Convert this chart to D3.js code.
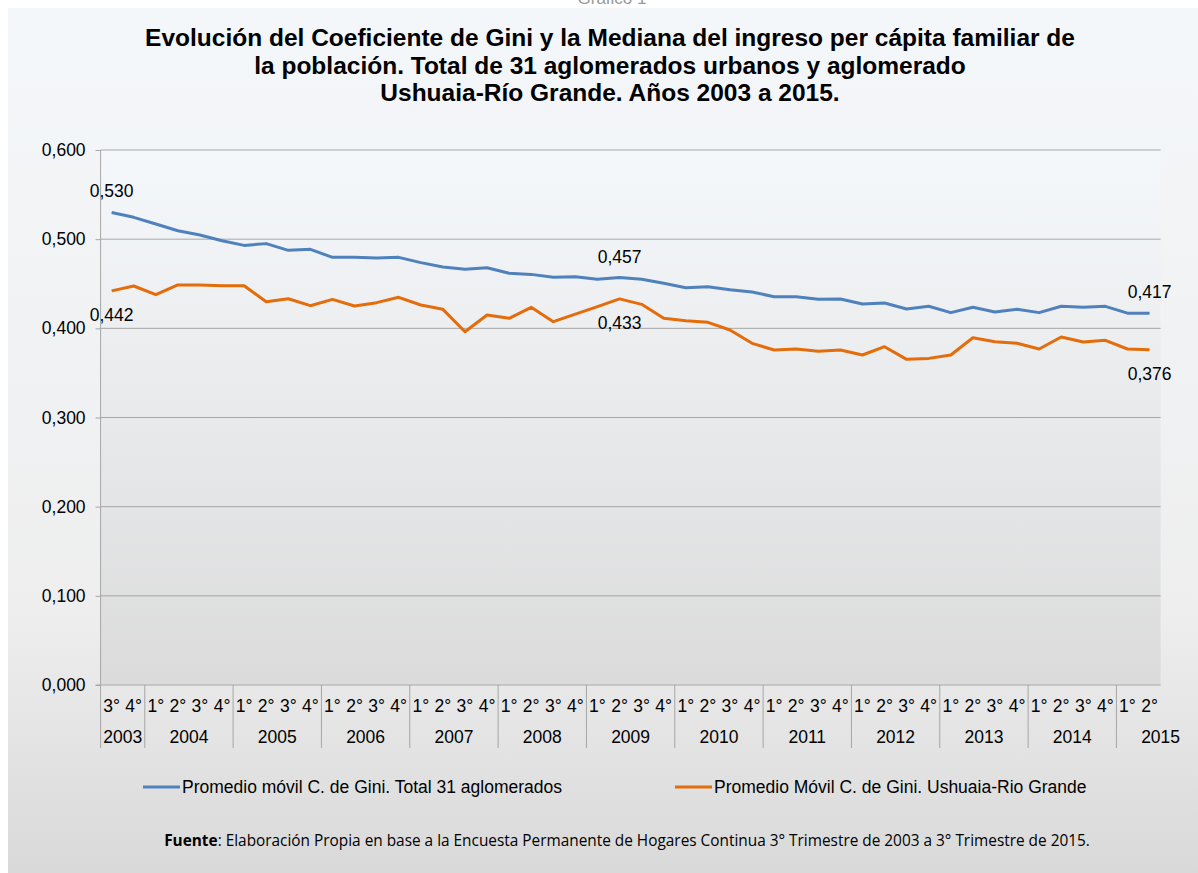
<!DOCTYPE html>
<html>
<head>
<meta charset="utf-8">
<script src="https://cdn.jsdelivr.net/npm/d3@7"></script>
<style>
  body { margin: 0; background: #fff; }
  svg text { font-family: "Liberation Sans", Arial, sans-serif; fill: #000; }
</style>
</head>
<body>
<svg id="chart" width="1198" height="873"></svg>
<script>
// periods, year + quarter
const periods = [
  '2003|3°','2003|4°',
  '2004|1°','2004|2°','2004|3°','2004|4°',
  '2005|1°','2005|2°','2005|3°','2005|4°',
  '2006|1°','2006|2°','2006|3°','2006|4°',
  '2007|1°','2007|2°','2007|3°','2007|4°',
  '2008|1°','2008|2°','2008|3°','2008|4°',
  '2009|1°','2009|2°','2009|3°','2009|4°',
  '2010|1°','2010|2°','2010|3°','2010|4°',
  '2011|1°','2011|2°','2011|3°','2011|4°',
  '2012|1°','2012|2°','2012|3°','2012|4°',
  '2013|1°','2013|2°','2013|3°','2013|4°',
  '2014|1°','2014|2°','2014|3°','2014|4°',
  '2015|1°','2015|2°'
];

const gini31 = [
  0.530, 0.5245, 0.517, 0.5095, 0.5047, 0.4983, 0.493, 0.495,
  0.4875, 0.4886, 0.4796, 0.4796, 0.4789, 0.4796, 0.4737, 0.4688,
  0.4662, 0.468, 0.4617, 0.4605, 0.4572, 0.4579, 0.455, 0.457,
  0.455, 0.4505, 0.4456, 0.4467, 0.4433, 0.4407, 0.4355, 0.4355,
  0.4327, 0.4329, 0.4273, 0.4284, 0.4217, 0.4247, 0.4176, 0.4236,
  0.4183, 0.4213, 0.4176, 0.4247, 0.4236, 0.4247, 0.417, 0.417
];

const ushuaia = [
  0.442, 0.4475, 0.4378, 0.4486, 0.4486, 0.4478, 0.4478, 0.4299,
  0.4332, 0.4254, 0.4325, 0.425, 0.4288, 0.4348, 0.4262, 0.4213,
  0.3962, 0.415, 0.4112, 0.4236, 0.4075, 0.416, 0.4243, 0.433,
  0.4269, 0.4112, 0.4086, 0.4067, 0.3981, 0.3832, 0.3757, 0.3768,
  0.3744, 0.3757, 0.3701, 0.3794, 0.3652, 0.3663, 0.3701, 0.3895,
  0.385, 0.3832, 0.3768, 0.3903, 0.3847, 0.3865, 0.3768, 0.376
];

const yTicks = [0, 0.1, 0.2, 0.3, 0.4, 0.5, 0.6];
const labelIdx = [0, 23, 47];

const seriesNames = [
  'Promedio móvil C. de Gini. Total 31 aglomerados',
  'Promedio Móvil C. de Gini. Ushuaia-Rio Grande'
];
const titleLines = [
  'Evolución del Coeficiente de Gini y la Mediana del ingreso per cápita familiar de',
  'la población. Total de 31 aglomerados urbanos y aglomerado',
  'Ushuaia-Río Grande. Años 2003 a 2015.'
];

const blue = '#4f81bd', orange = '#e46c0a';
const fs = 17.5;

const svg = d3.select('#chart');
const defs = svg.append('defs');

const bgGrad = defs.append('linearGradient').attr('id', 'bg')
  .attr('x1', 0).attr('y1', 0).attr('x2', 0).attr('y2', 1);
bgGrad.append('stop').attr('offset', '0%').attr('stop-color', '#f4f7fa');
bgGrad.append('stop').attr('offset', '70%').attr('stop-color', '#eeeeee');
bgGrad.append('stop').attr('offset', '100%').attr('stop-color', '#d9d9d9');

const plotGrad = defs.append('linearGradient').attr('id', 'plotbg')
  .attr('x1', 0).attr('y1', 0).attr('x2', 0).attr('y2', 1);
plotGrad.append('stop').attr('offset', '0%').attr('stop-color', '#f5f8fb');
plotGrad.append('stop').attr('offset', '100%').attr('stop-color', '#dbdbdb');

svg.append('rect').attr('x', 8).attr('y', 8).attr('width', 1190).attr('height', 865)
  .attr('fill', 'url(#bg)');

// caption above the chart, mostly cut off in the original
svg.append('text').attr('x', 612).attr('y', 4).attr('text-anchor', 'middle')
  .attr('font-size', 17).style('fill', '#999').text('Gráfico 1');

const pLeft = 100.6, pRight = 1160.6, pTop = 150, pBottom = 685;

const x = d3.scaleBand().domain(d3.range(periods.length)).range([pLeft, pRight]);
const y = d3.scaleLinear().domain([0, 0.6]).range([pBottom, pTop]);
const fmt = v => d3.format('.3f')(v).replace('.', ',');

svg.append('rect').attr('x', pLeft).attr('y', pTop)
  .attr('width', pRight - pLeft).attr('height', pBottom - pTop)
  .attr('fill', 'url(#plotbg)');

// title
svg.append('g').selectAll('text').data(titleLines).join('text')
  .attr('x', 610).attr('y', (d, i) => 46 + i * 27.5)
  .attr('text-anchor', 'middle').attr('font-size', 24.5).attr('font-weight', 'bold')
  .text(d => d);

// y axis + grid
const yAxis = d3.axisLeft(y).tickValues(yTicks).tickFormat(fmt)
  .tickSize(5).tickPadding(10);
const yg = svg.append('g').attr('transform', `translate(${pLeft},0)`).call(yAxis);
yg.attr('font-size', fs).attr('font-family', null);
yg.select('.domain').attr('stroke', '#a6a6a6').attr('d', `M0,${pTop}V${pBottom}`);
yg.selectAll('.tick line').attr('stroke', '#a6a6a6');

svg.append('g').selectAll('line').data(yTicks.filter(d => d > 0)).join('line')
  .attr('x1', pLeft).attr('x2', pRight)
  .attr('y1', d => y(d)).attr('y2', d => y(d))
  .attr('stroke', '#a6a6a6').attr('stroke-width', 1);

svg.append('line').attr('x1', pLeft - 5).attr('x2', pRight)
  .attr('y1', pBottom).attr('y2', pBottom).attr('stroke', '#a6a6a6');

// x axis: quarters and years
const xg = svg.append('g');
xg.selectAll('text.q').data(periods).join('text').attr('class', 'q')
  .attr('x', (d, i) => x(i) + x.bandwidth() / 2).attr('y', pBottom + 27)
  .attr('text-anchor', 'middle').attr('font-size', fs)
  .text(d => d.split('|')[1]);

const years = Array.from(new Set(periods.map(d => d.split('|')[0])));
const yearSpan = years.map(yr => {
  const idx = periods.map((d, i) => d.startsWith(yr) ? i : -1).filter(i => i >= 0);
  return { yr, first: idx[0], last: idx[idx.length - 1] };
});

xg.selectAll('line.sep').data(yearSpan).join('line').attr('class', 'sep')
  .attr('x1', d => x(d.first)).attr('x2', d => x(d.first))
  .attr('y1', pBottom).attr('y2', pBottom + 63)
  .attr('stroke', '#a6a6a6');

xg.selectAll('text.yr').data(yearSpan).join('text').attr('class', 'yr')
  .attr('x', (d, i) => i === yearSpan.length - 1
    ? x(d.last) + x.bandwidth()
    : (x(d.first) + x(d.last) + x.bandwidth()) / 2)
  .attr('y', pBottom + 58)
  .attr('text-anchor', 'middle').attr('font-size', fs)
  .text(d => d.yr);

// lines
const line = d3.line().x((d, i) => x(i) + x.bandwidth() / 2).y(d => y(d));
[[gini31, blue], [ushuaia, orange]].forEach(([vals, col]) => {
  svg.append('path').datum(vals).attr('d', line)
    .attr('fill', 'none').attr('stroke', col).attr('stroke-width', 3)
    .attr('stroke-linejoin', 'round');
});

// data labels
svg.append('g').selectAll('text').data(labelIdx).join('text')
  .attr('x', i => x(i) + x.bandwidth() / 2).attr('y', i => y(gini31[i]) - 15)
  .attr('text-anchor', 'middle').attr('font-size', fs).text(i => fmt(gini31[i]));
svg.append('g').selectAll('text').data(labelIdx).join('text')
  .attr('x', i => x(i) + x.bandwidth() / 2).attr('y', i => y(ushuaia[i]) + 30)
  .attr('text-anchor', 'middle').attr('font-size', fs).text(i => fmt(ushuaia[i]));

// legend
const legendPos = [143, 675];
const lg = svg.append('g');
seriesNames.forEach((name, k) => {
  const lx = legendPos[k];
  lg.append('line').attr('x1', lx).attr('x2', lx + 37).attr('y1', 787).attr('y2', 787)
    .attr('stroke', k === 0 ? blue : orange).attr('stroke-width', 3);
  lg.append('text').attr('x', lx + 39).attr('y', 793).attr('font-size', fs).text(name);
});

// source note
const src = svg.append('text').attr('x', 627).attr('y', 846).attr('text-anchor', 'middle')
  .attr('font-size', 13).style('font-family', '"Open Sans", sans-serif');
src.append('tspan').attr('font-weight', 'bold').text('Fuente');
src.append('tspan').text(': Elaboración Propia en base a la Encuesta Permanente de Hogares Continua 3° Trimestre de 2003 a 3° Trimestre de 2015.');
const srcW = src.node().getComputedTextLength();
src.attr('font-size', 13 * 927 / srcW);
</script>
</body>
</html>
